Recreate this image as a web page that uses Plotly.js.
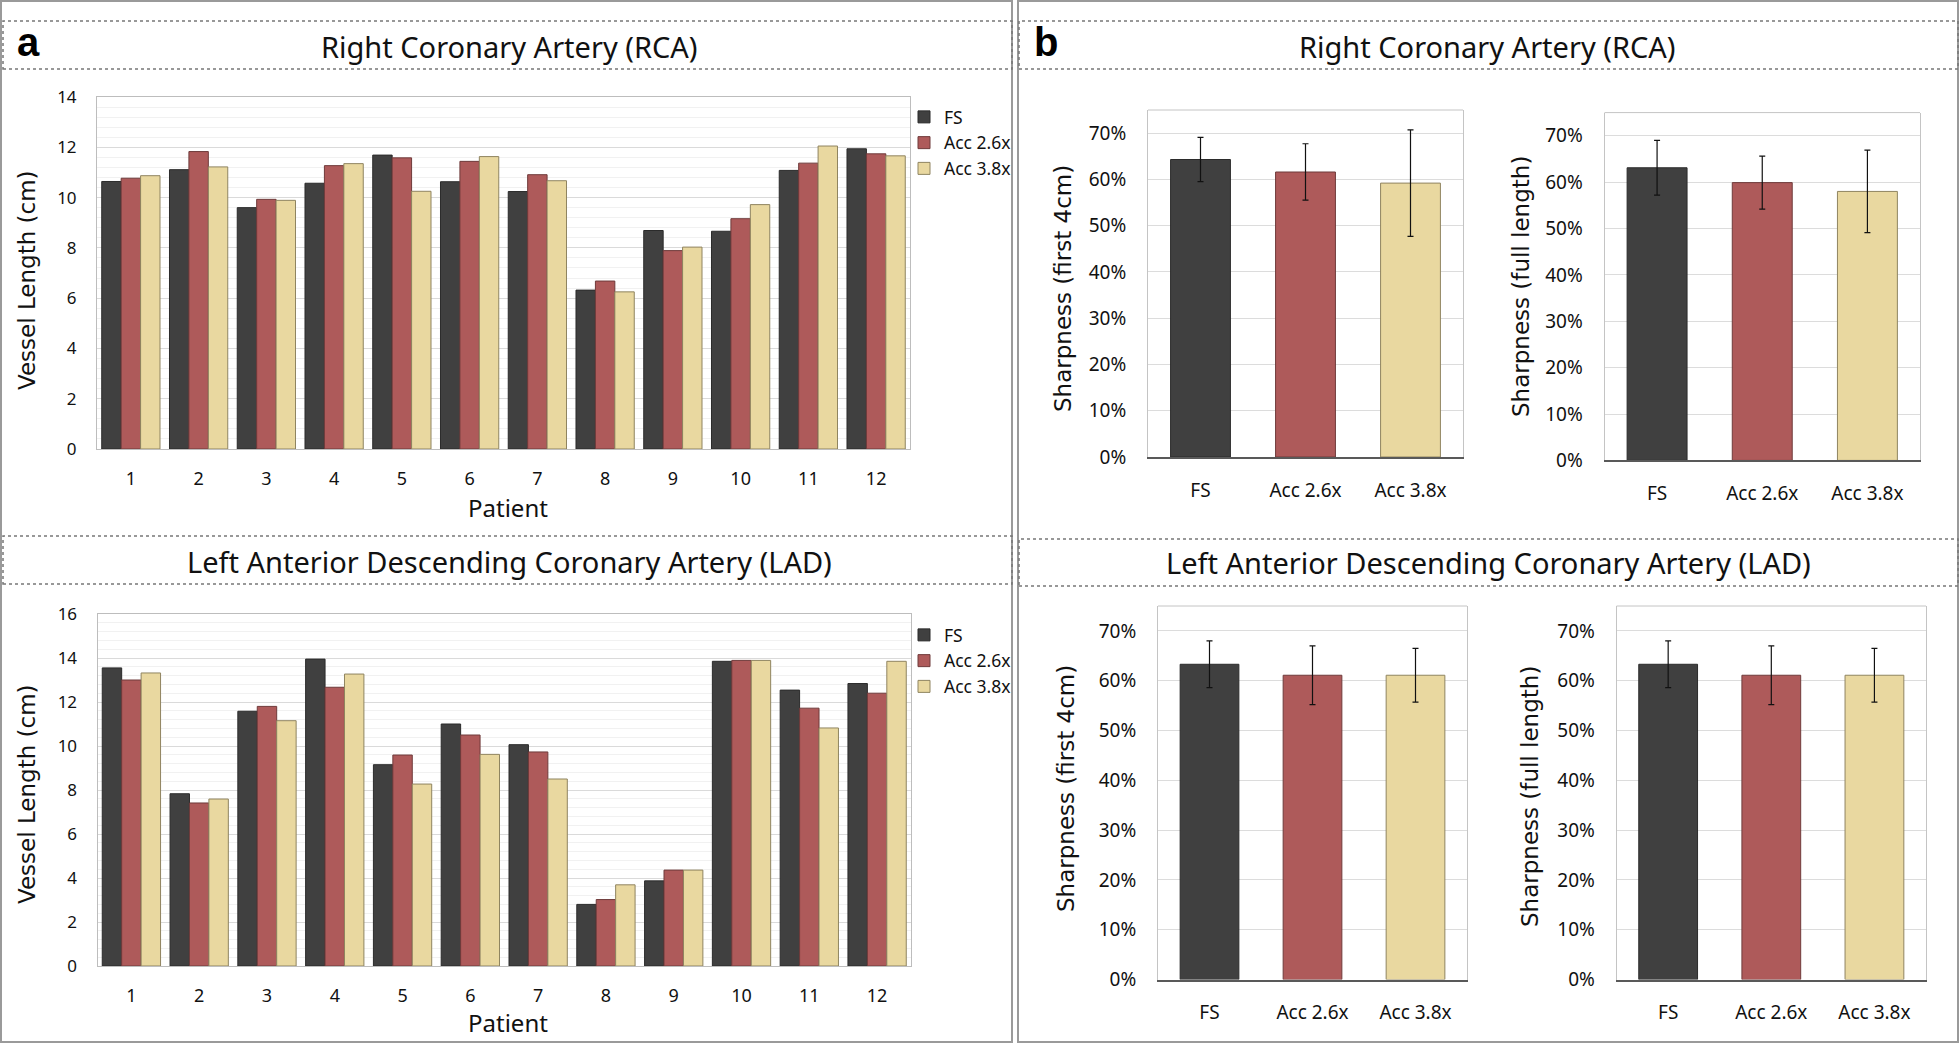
<!DOCTYPE html>
<html>
<head>
<meta charset="utf-8">
<script src="https://cdn.plot.ly/plotly-3.0.1.min.js"></script>
<style>
  html, body { margin: 0; padding: 0; background: #fff; }
  #chart { width: 1960px; height: 1044px; }
</style>
</head>
<body>
<div id="chart"></div>
<script>
// --- Data ---
const patients = ['1', '2', '3', '4', '5', '6', '7', '8', '9', '10', '11', '12'];
const seriesNames = ['FS', 'Acc 2.6x', 'Acc 3.8x'];

const rcaFS    = [10.64, 11.11, 9.60, 10.57, 11.69, 10.63, 10.24, 6.32, 8.69, 8.66, 11.08, 11.94];
const rcaAcc26 = [10.77, 11.83, 9.93, 11.27, 11.58, 11.44, 10.91, 6.68, 7.89, 9.16, 11.37, 11.74];
const rcaAcc38 = [10.87, 11.22, 9.89, 11.35, 10.25, 11.63, 10.67, 6.25, 8.03, 9.72, 12.05, 11.66];

const ladFS    = [13.55, 7.83, 11.58, 13.95, 9.15, 11.00, 10.06, 2.80, 3.87, 13.85, 12.54, 12.84];
const ladAcc26 = [13.00, 7.41, 11.80, 12.67, 9.59, 10.50, 9.73, 3.02, 4.36, 13.89, 11.72, 12.40];
const ladAcc38 = [13.32, 7.59, 11.15, 13.27, 8.27, 9.62, 8.50, 3.69, 4.36, 13.89, 10.82, 13.85];

// sharpness: mean and error half-width
const rcaFirst4Mean = [0.643, 0.616, 0.592];
const rcaFirst4Err  = [0.048, 0.061, 0.115];
const rcaFullMean   = [0.631, 0.599, 0.580];
const rcaFullErr    = [0.059, 0.057, 0.089];
const ladFirst4Mean = [0.633, 0.611, 0.611];
const ladFirst4Err  = [0.047, 0.059, 0.054];
const ladFullMean   = [0.633, 0.611, 0.611];
const ladFullErr    = [0.047, 0.059, 0.054];

// --- Style ---
const W = 1960, H = 1044;
const fills = ['#404040', '#ae5a5a', '#e9d8a0'];
const edges = ['#2b2b2b', '#6f3b3b', '#8f8460'];
const FONT = 'Noto Sans, sans-serif';
const WIDE = 'DejaVu Sans, sans-serif';

const px = x => x / W;
const py = y => 1 - y / H;

// --- Traces ---
function lengthTraces(values, xa, ya, legendId) {
    return values.map((v, i) => ({
        type: 'bar', x: patients, y: v, name: seriesNames[i],
        xaxis: xa, yaxis: ya, legend: legendId,
        marker: { color: fills[i], line: { color: edges[i], width: 1 } },
        hoverinfo: 'y'
    }));
}

function sharpTrace(mean, err, xa, ya) {
    return {
        type: 'bar', x: seriesNames, y: mean, width: 0.57,
        xaxis: xa, yaxis: ya, showlegend: false,
        marker: { color: fills, line: { color: edges, width: 1 } },
        error_y: { type: 'data', array: err, color: '#111', thickness: 1.2, width: 3 }
    };
}

const traces = [
    ...lengthTraces([rcaFS, rcaAcc26, rcaAcc38], 'x', 'y', 'legend'),
    ...lengthTraces([ladFS, ladAcc26, ladAcc38], 'x2', 'y2', 'legend2'),
    sharpTrace(rcaFirst4Mean, rcaFirst4Err, 'x3', 'y3'),
    sharpTrace(rcaFullMean, rcaFullErr, 'x4', 'y4'),
    sharpTrace(ladFirst4Mean, ladFirst4Err, 'x5', 'y5'),
    sharpTrace(ladFullMean, ladFullErr, 'x6', 'y6')
];

// --- Axes ---
function lenX(x0, x1, anchor) {
    return {
        domain: [px(x0), px(x1)], anchor, type: 'category', showgrid: false, zeroline: false,
        showline: true, linecolor: '#bdbdbd', mirror: true, ticks: '',
        ticklabelstandoff: 13, tickfont: { family: FONT, size: 18, color: '#111' }
    };
}
function lenY(y0, y1, max, anchor) {
    return {
        domain: [py(y1), py(y0)], range: [0, max], dtick: 2, anchor,
        showline: true, linecolor: '#bdbdbd', mirror: true, ticks: '',
        gridcolor: '#dadada', zeroline: false,
        minor: { dtick: 0.4, showgrid: true, gridcolor: '#f1f1f1', gridwidth: 1 },
        ticklabelstandoff: 16, tickfont: { family: FONT, size: 17, color: '#111' }
    };
}
function sharpX(x0, x1, anchor) {
    return {
        domain: [px(x0), px(x1)], anchor, type: 'category', showgrid: false, zeroline: false,
        showline: true, linecolor: '#595959', linewidth: 2, ticks: '',
        ticklabelstandoff: 15, tickfont: { family: FONT, size: 19, color: '#111' }
    };
}
function sharpY(y0, y1, anchor) {
    return {
        domain: [py(y1), py(y0)], anchor, range: [0, 0.75], dtick: 0.1, tickformat: '.0%',
        showline: true, linecolor: '#c4c4c4', mirror: true, ticks: '',
        gridcolor: '#dcdcdc', zeroline: false,
        ticklabelstandoff: 17, tickfont: { family: FONT, size: 19, color: '#111' }
    };
}

// --- Frames and title boxes ---
const frame = (x0, x1, y0, y1) => ({ type: 'rect', xref: 'paper', yref: 'paper', x0: px(x0), x1: px(x1), y0: py(y1), y1: py(y0), line: { color: '#9a9a9a', width: 2 } });
const dotted = (x0, x1, y0, y1) => ({ type: 'rect', xref: 'paper', yref: 'paper', x0: px(x0), x1: px(x1), y0: py(y1), y1: py(y0), line: { color: '#777', width: 1.5, dash: 'dot' } });
const shapes = [
    frame(1, 1012, 1, 1042),
    frame(1018, 1958, 1, 1042),
    dotted(3, 1012, 21, 69),
    dotted(3, 1012, 536, 584),
    dotted(1019, 1958, 21, 69),
    dotted(1019, 1958, 539, 586)
];
['3', '4', '5', '6'].forEach(n => {
    shapes.push({ type: 'line', xref: 'x' + n + ' domain', yref: 'y' + n + ' domain', x0: 0, x1: 1, y0: 1, y1: 1, line: { color: '#c4c4c4', width: 1 } });
});

// --- Text ---
function label(text, x, y, size, opts = {}) {
    return Object.assign({
        text, x: px(x), y: py(y), xref: 'paper', yref: 'paper', showarrow: false,
        xanchor: 'center', yanchor: 'middle', font: { family: FONT, size, color: '#111' }
    }, opts);
}
const panelFont = { family: 'Liberation Sans, Arial, sans-serif', size: 40, color: '#000' };
const yTitle = (text, x, y) => label(text, x, y, 23, { textangle: -90, font: { family: WIDE, size: 23, color: '#111' } });

const annotations = [
    label('<b>a</b>', 28, 42, 40, { font: panelFont }),
    label('<b>b</b>', 1046, 42, 40, { font: panelFont }),
    label('Right Coronary Artery (RCA)', 509, 46, 29),
    label('Left Anterior Descending Coronary Artery (LAD)', 509, 561, 29),
    label('Right Coronary Artery (RCA)', 1487, 46, 29),
    label('Left Anterior Descending Coronary Artery (LAD)', 1488, 562, 29),
    label('Patient', 508, 507, 24),
    label('Patient', 508, 1022, 24),
    yTitle('Vessel Length (cm)', 27, 280),
    yTitle('Vessel Length (cm)', 27, 794),
    yTitle('Sharpness (first 4cm)', 1063, 289),
    yTitle('Sharpness (full length)', 1521, 287),
    yTitle('Sharpness (first 4cm)', 1066, 789),
    yTitle('Sharpness (full length)', 1530, 797)
];

const legendBase = {
    xref: 'paper', yref: 'paper', xanchor: 'left', yanchor: 'top',
    bgcolor: 'rgba(0,0,0,0)', font: { family: FONT, size: 17.5, color: '#111' },
    itemwidth: 30, tracegroupgap: 0
};

const layout = {
    width: W, height: H, margin: { l: 0, r: 0, t: 0, b: 0 },
    paper_bgcolor: '#fff', plot_bgcolor: '#fff',
    barmode: 'group', bargap: 0.14, bargroupgap: 0,
    showlegend: true,
    legend: Object.assign({}, legendBase, { x: px(904), y: py(99) }),
    legend2: Object.assign({}, legendBase, { x: px(904), y: py(617) }),
    xaxis: lenX(97, 910, 'y'),
    yaxis: lenY(97, 449, 14, 'x'),
    xaxis2: lenX(97.5, 911, 'y2'),
    yaxis2: lenY(614, 966, 16, 'x2'),
    xaxis3: sharpX(1148, 1463, 'y3'),
    yaxis3: sharpY(110, 457, 'x3'),
    xaxis4: sharpX(1604.5, 1920, 'y4'),
    yaxis4: sharpY(112.6, 460.4, 'x4'),
    xaxis5: sharpX(1158, 1467, 'y5'),
    yaxis5: sharpY(606, 979.6, 'x5'),
    xaxis6: sharpX(1616.6, 1926, 'y6'),
    yaxis6: sharpY(606, 979.6, 'x6'),
    shapes, annotations
};

Plotly.newPlot('chart', traces, layout, { staticPlot: true });
</script>
</body>
</html>
